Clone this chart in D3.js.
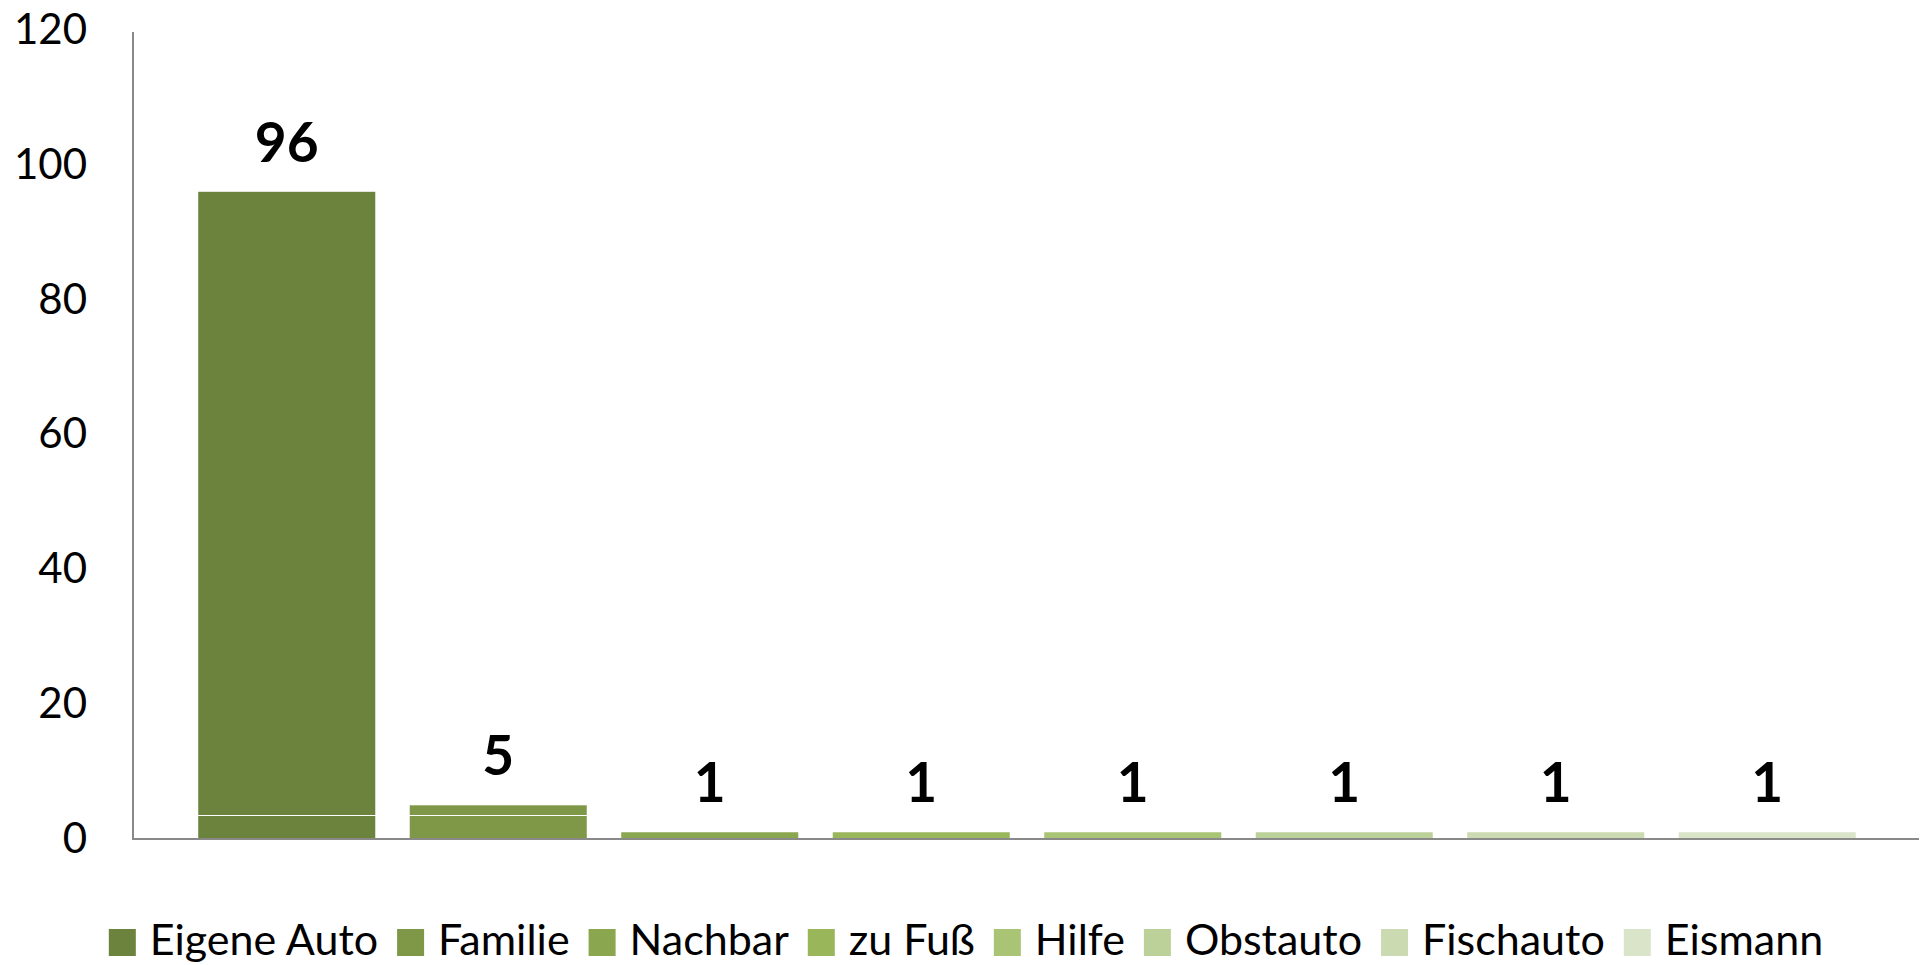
<!DOCTYPE html>
<html>
<head>
<meta charset="utf-8">
<script src="https://cdn.jsdelivr.net/npm/d3@7"></script>
<style>
  body { margin: 0; background: #fff; }
  svg { display: block; font-family: Lato, "Open Sans", sans-serif; }
</style>
</head>
<body>
<svg width="1923" height="965"></svg>
<script>
// données
var categories = ["Eigene Auto", "Familie", "Nachbar", "zu Fuß", "Hilfe", "Obstauto", "Fischauto", "Eismann"];
var values = [96, 5, 1, 1, 1, 1, 1, 1];
var colors = ["#6b833c", "#7f9847", "#8aa64f", "#9ab65a", "#a9c474", "#bcd19a", "#cbdab1", "#dae4c8"];
var yTicks = [0, 20, 40, 60, 80, 100, 120];
var whiteLineValue = 3.6; // fine ligne blanche qui traverse les barres

var svg = d3.select("svg"),
    margin = { top: 30, left: 133, right: 4, bottom: 126 },
    width = +svg.attr("width"),
    height = +svg.attr("height"),
    y0 = height - margin.bottom; // 839

var x = d3.scaleBand()
    .domain(categories)
    .range([181, 1873])
    .paddingInner(0.163)
    .paddingOuter(0.0815);

var y = d3.scaleLinear()
    .domain([0, 120])
    .range([y0, margin.top]);

// barres
svg.selectAll(".bar")
    .data(values)
    .enter().append("rect")
    .attr("class", "bar")
    .attr("x", function (d, i) { return x(categories[i]); })
    .attr("y", function (d) { return y(d); })
    .attr("width", x.bandwidth())
    .attr("height", function (d) { return y0 - y(d); })
    .style("fill", function (d, i) { return colors[i]; });

// ligne blanche
svg.append("line")
    .attr("x1", margin.left - 1).attr("x2", width - margin.right)
    .attr("y1", Math.round(y(whiteLineValue)) + 0.5).attr("y2", Math.round(y(whiteLineValue)) + 0.5)
    .style("stroke", "#fff").style("stroke-width", 1.2);

// étiquettes des valeurs
svg.selectAll(".label")
    .data(values)
    .enter().append("text")
    .attr("class", "label")
    .attr("x", function (d, i) { return x(categories[i]) + x.bandwidth() / 2; })
    .attr("y", function (d) { return y(d) - 30; })
    .attr("text-anchor", "middle")
    .style("font-weight", "bold")
    .style("font-size", "55px")
    .text(function (d) { return d; });

// axe Y
var yAxis = d3.axisLeft(y).tickValues(yTicks).tickSize(0).tickPadding(46);
var gy = svg.append("g")
    .attr("transform", "translate(" + margin.left + ",0)")
    .call(yAxis);
gy.select(".domain").remove();
gy.selectAll("text")
    .style("font-family", "Lato, sans-serif")
    .style("font-size", "42px")
    .style("fill", "#000");

svg.append("line")
    .attr("x1", margin.left).attr("x2", margin.left)
    .attr("y1", y(120) + 2).attr("y2", y0)
    .style("stroke", "#898989").style("stroke-width", 2);

// axe X
svg.append("line")
    .attr("x1", margin.left - 1).attr("x2", width - margin.right)
    .attr("y1", y0).attr("y2", y0)
    .style("stroke", "#898989").style("stroke-width", 2);

// légende
var legend = svg.append("g").attr("class", "legend");
var box = 27, gapText = 14, gapItem = 19, cursor = 0;
categories.forEach(function (c, i) {
    var item = legend.append("g").attr("transform", "translate(" + cursor + ",0)");
    item.append("rect")
        .attr("x", 0).attr("y", 929)
        .attr("width", box).attr("height", box)
        .style("fill", colors[i]);
    var t = item.append("text")
        .attr("x", box + gapText).attr("y", 955)
        .style("font-size", "43px")
        .text(c);
    cursor += box + gapText + t.node().getComputedTextLength() + gapItem;
});
var total = cursor - gapItem;
legend.attr("transform", "translate(" + (966 - total / 2) + ",0)");
</script>
</body>
</html>
